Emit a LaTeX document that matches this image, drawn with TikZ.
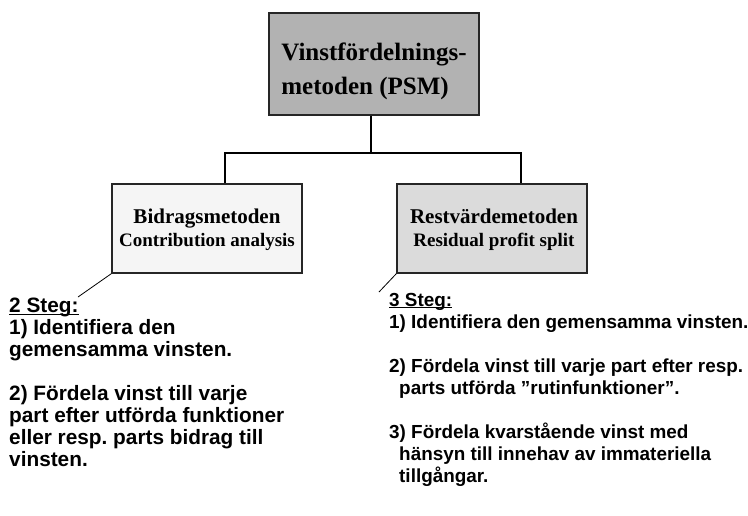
\documentclass[tikz,border=0pt]{standalone}
\usepackage{fontspec}
\setmainfont{Liberation Serif}
\newfontfamily\arialfont{Liberation Sans}
\frenchspacing
\begin{document}
\begin{tikzpicture}[x=1pt,y=-1pt,
  box/.style={draw=black!85, line width=1.3pt, inner sep=0pt, minimum width=190pt, minimum height=89pt},
  conn/.style={line width=2.2pt, black},
  leader/.style={line width=0.8pt, black},
  boxtitle/.style={font=\bfseries\fontsize{21}{23}\selectfont, align=center},
  lsteps/.style={font=\arialfont\bfseries\fontsize{20.8}{22}\selectfont, anchor=base west, inner sep=0pt},
  rsteps/.style={font=\arialfont\bfseries\fontsize{18.9}{22}\selectfont, anchor=base west, inner sep=0pt}
]
\useasboundingbox (0,0) rectangle (748,515);
% top box
\node[box, fill=black!30, minimum width=210pt, minimum height=102pt] (top) at (374,64) {};
\node[font=\bfseries\fontsize{25}{34}\selectfont, align=left, inner sep=0pt] (toptext) at (374,71) {Vinstfördelnings-\\metoden (PSM)};
% sub boxes
\node[box, fill=black!4] (left) at (207,228.5) {};
\node[boxtitle] (lefttext) at (207,230) {Bidragsmetoden\\{\fontsize{19}{21}\selectfont Contribution analysis}};
\node[box, fill=black!14] (right) at (492,228.5) {};
\node[boxtitle] (righttext) at (494,229.5) {Restvärdemetoden\\{\fontsize{19}{21}\selectfont Residual profit split}};
% connectors
\coordinate (j) at (371,153);
\coordinate (jl) at (225,153);
\coordinate (jr) at (521,153);
\draw[conn] (top.south -| j) -- (j);
\draw[conn] (jl |- left.north) -- (jl) -- (jr) -- (jr |- right.north);
% leader lines
\coordinate (lc) at (78,297);
\coordinate (rc) at (379,292);
\draw[leader] (left.south west) -- (lc);
\draw[leader] (right.south west) -- (rc);
% left steps
\node[lsteps] (l0) at (9,312.5) {\underline{\smash{2 Steg:}}};
\node[lsteps] (l1a) at (9,334.5) {1) Identifiera den};
\node[lsteps] (l1b) at (9,356.5) {gemensamma vinsten.};
\node[lsteps] (l2a) at (9,400.5) {2) Fördela vinst till varje};
\node[lsteps] (l2b) at (9,422.5) {part efter utförda funktioner};
\node[lsteps] (l2c) at (9,444.5) {eller resp. parts bidrag till};
\node[lsteps] (l2d) at (9,466.5) {vinsten.};
% right steps
\node[rsteps] (r0) at (389,306) {\underline{\smash{3 Steg:}}};
\node[rsteps] (r1) at (389,328) {1) Identifiera den gemensamma vinsten.};
\node[rsteps] (r2a) at (389,372) {2) Fördela vinst till varje part efter resp.};
\node[rsteps] (r2b) at (399,394) {parts utförda ”rutinfunktioner”.};
\node[rsteps] (r3a) at (389,438) {3) Fördela kvarstående vinst med};
\node[rsteps] (r3b) at (399,460) {hänsyn till innehav av immateriella};
\node[rsteps] (r3c) at (399,482) {tillgångar.};
\end{tikzpicture}
\end{document}
